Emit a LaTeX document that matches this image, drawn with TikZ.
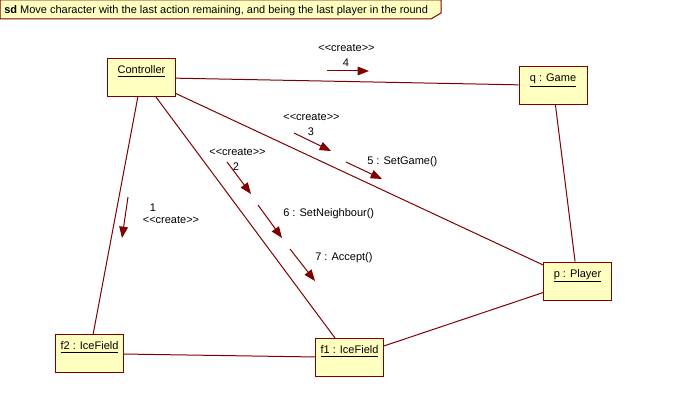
\documentclass[tikz,border=0pt]{standalone}
\usepackage{fontspec}
\setmainfont{Liberation Sans}[Ligatures=TeXOff]
\usepackage{tikz}
\usetikzlibrary{
	arrows.meta
}

\definecolor{umlline}{HTML}{800000}
\definecolor{umlfill}{HTML}{FFFFC0}

\begin{document}
\begin{tikzpicture}[
	x=0.75pt, y=-0.75pt,
	font=\fontsize{8.25}{10}\selectfont,
	object/.style={draw=umlline, fill=umlfill, line width=0.75pt,
		minimum width=51pt, minimum height=28.5pt, inner ysep=3pt,
		text height=8.5pt, text depth=14pt},
	link/.style={draw=umlline, line width=0.75pt},
	msg/.style={draw=umlline, line width=0.75pt,
		-{Triangle[length=8.5pt, width=6.5pt]}},
	msglabel/.style={inner sep=0}
]
	\useasboundingbox (0,0) rectangle (696,410);

	% frame title
	\draw[draw=umlline, fill=umlfill, line width=0.75pt]
		(0,0) -- (441,0) -- (441,13) -- (431,19) -- (0,19) -- cycle;
	\node(title)[anchor=base west, inner sep=0] at (4,13.5)
		{\textbf{sd} Move character with the last action remaining, and being the last player in the round};

	% objects
	\node(ctrl)[object] at (141.5,77.5) {\underline{Controller}};
	\node(game)[object] at (553,85.5) {\underline{q : Game}};
	\node(player)[object] at (577.5,281) {\underline{p : Player}};
	\node(fone)[object] at (349.5,357.5) {\underline{f1 : IceField}};
	\node(ftwo)[object] at (89.5,353.5) {\underline{f2 : IceField}};

	% links
	\draw[link] (ctrl) -- (game);
	\draw[link] (ctrl) -- (player);
	\draw[link] (ctrl) -- (fone);
	\draw[link] (ctrl) -- (ftwo);
	\draw[link] (ftwo) -- (fone);
	\draw[link] (fone) -- (player);
	\draw[link] (game) -- (player);

	% messages
	\coordinate (m1s) at (128,197);
	\coordinate (m1e) at (122,238);
	\coordinate (m2s) at (227,162);
	\coordinate (m2e) at (251,194);
	\coordinate (m3s) at (294,133);
	\coordinate (m3e) at (331,151);
	\coordinate (m4s) at (327,71);
	\coordinate (m4e) at (369,71);
	\coordinate (m5s) at (346,162);
	\coordinate (m5e) at (382,179);
	\coordinate (m6s) at (258,205);
	\coordinate (m6e) at (282,238);
	\coordinate (m7s) at (290,249);
	\coordinate (m7e) at (315,281);

	\draw[msg] (m1s) -- (m1e);
	\draw[msg] (m2s) -- (m2e);
	\draw[msg] (m3s) -- (m3e);
	\draw[msg] (m4s) -- (m4e);
	\draw[msg] (m5s) -- (m5e);
	\draw[msg] (m6s) -- (m6e);
	\draw[msg] (m7s) -- (m7e);

	\node(l1n)[msglabel] at (153,208) {1};
	\node(l1s)[msglabel] at (171,220) {<<create>>};
	\node(l2s)[msglabel] at (237.5,152) {<<create>>};
	\node(l2n)[msglabel] at (236,167) {2};
	\node(l3s)[msglabel] at (311.5,117) {<<create>>};
	\node(l3n)[msglabel] at (311,132) {3};
	\node(l4s)[msglabel] at (346.5,48) {<<create>>};
	\node(l4n)[msglabel] at (346,63) {4};
	\node(l5)[msglabel, anchor=west] at (367,162) {5 : SetGame()};
	\node(l6)[msglabel, anchor=west] at (283,214) {6 : SetNeighbour()};
	\node(l7)[msglabel, anchor=west] at (315,258) {7 : Accept()};
\end{tikzpicture}
\end{document}
